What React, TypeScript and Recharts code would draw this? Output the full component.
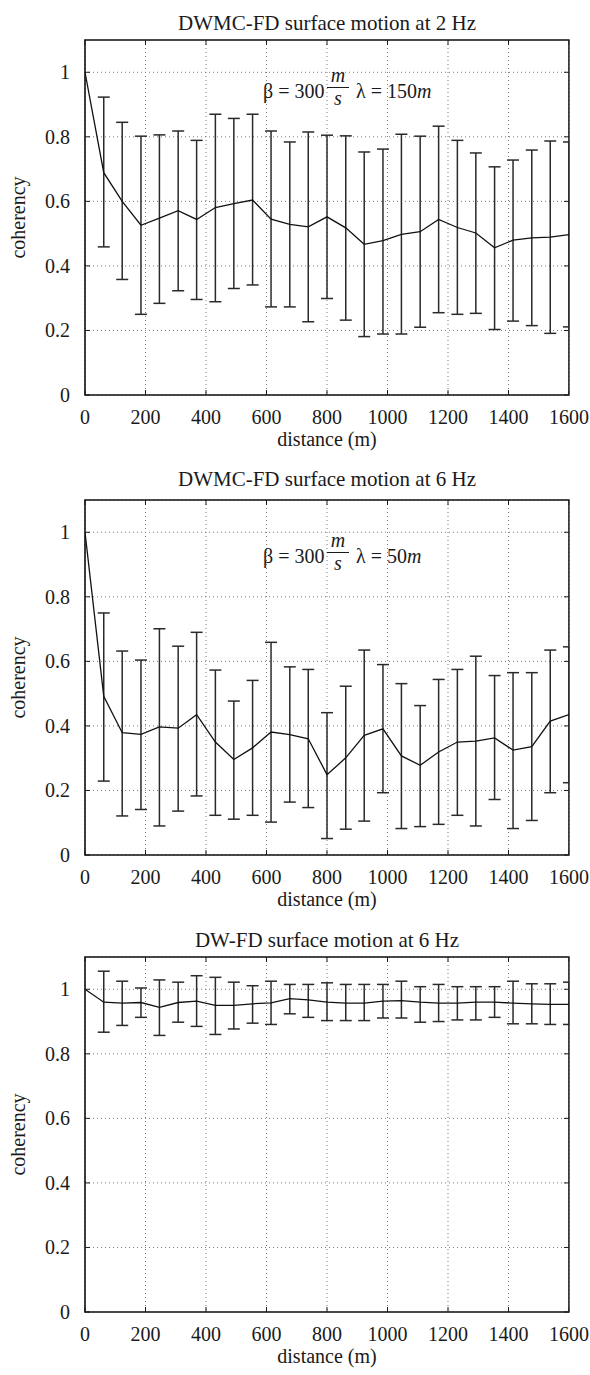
import React from 'react'
import {
  ComposedChart,
  Line,
  XAxis,
  YAxis,
  CartesianGrid,
  ErrorBar,
  ReferenceArea,
} from 'recharts'

// sensor separation (m)
const distance = [
  0, 62, 123, 185, 246, 308, 369, 431, 492, 554, 615, 677, 738, 800, 862, 923, 985, 1046,
  1108, 1169, 1231, 1292, 1354, 1415, 1477, 1538, 1600,
]

// DWMC-FD, 2 Hz
const coh2Hz = [
  1.0, 0.689, 0.6, 0.526, 0.548, 0.571, 0.544, 0.581, 0.593, 0.604, 0.545, 0.529, 0.521, 0.552,
  0.518, 0.467, 0.478, 0.498, 0.506, 0.544, 0.519, 0.502, 0.456, 0.48, 0.487, 0.489, 0.497,
]
const hi2Hz = [
  null, 0.923, 0.845, 0.802, 0.806, 0.818, 0.789, 0.87, 0.857, 0.87, 0.818, 0.784, 0.815, 0.805,
  0.803, 0.753, 0.762, 0.808, 0.802, 0.833, 0.789, 0.75, 0.707, 0.728, 0.759, 0.787, 0.784,
]
const lo2Hz = [
  null, 0.459, 0.358, 0.25, 0.284, 0.323, 0.296, 0.289, 0.33, 0.341, 0.273, 0.273, 0.227, 0.299,
  0.232, 0.181, 0.189, 0.189, 0.21, 0.255, 0.25, 0.253, 0.203, 0.229, 0.215, 0.191, 0.211,
]

// DWMC-FD, 6 Hz
const coh6Hz = [
  1.0, 0.492, 0.379, 0.374, 0.397, 0.393, 0.435, 0.35, 0.296, 0.332, 0.381, 0.373, 0.36, 0.249,
  0.301, 0.371, 0.391, 0.307, 0.278, 0.319, 0.35, 0.353, 0.363, 0.325, 0.336, 0.415, 0.435,
]
const hi6Hz = [
  null, 0.75, 0.632, 0.604, 0.701, 0.647, 0.69, 0.573, 0.477, 0.541, 0.659, 0.583, 0.575, 0.441,
  0.523, 0.635, 0.59, 0.531, 0.463, 0.544, 0.575, 0.616, 0.556, 0.565, 0.565, 0.635, 0.645,
]
const lo6Hz = [
  null, 0.229, 0.121, 0.141, 0.09, 0.136, 0.183, 0.123, 0.111, 0.123, 0.102, 0.164, 0.147, 0.051,
  0.08, 0.105, 0.193, 0.082, 0.088, 0.095, 0.123, 0.09, 0.172, 0.082, 0.107, 0.193, 0.224,
]

// DW-FD, 6 Hz
const cohDW = [
  1.0, 0.96, 0.957, 0.959, 0.944, 0.959, 0.963, 0.95, 0.95, 0.955, 0.958, 0.971, 0.967, 0.96,
  0.957, 0.957, 0.963, 0.965, 0.96, 0.957, 0.957, 0.96, 0.96, 0.957, 0.955, 0.953, 0.953,
]
const hiDW = [
  null, 1.056, 1.025, 1.004, 1.029, 1.022, 1.042, 1.037, 1.022, 1.011, 1.025, 1.015, 1.015, 1.02,
  1.015, 1.015, 1.015, 1.025, 1.008, 1.015, 1.008, 1.008, 1.008, 1.025, 1.017, 1.017, 1.022,
]
const loDW = [
  null, 0.867, 0.888, 0.913, 0.857, 0.898, 0.885, 0.86, 0.877, 0.895, 0.891, 0.924, 0.913, 0.903,
  0.903, 0.903, 0.911, 0.911, 0.898, 0.9, 0.905, 0.905, 0.913, 0.893, 0.893, 0.891, 0.891,
]

const xTicks = [0, 200, 400, 600, 800, 1000, 1200, 1400, 1600]
const yTicks = [0, 0.2, 0.4, 0.6, 0.8, 1]

const FONT = '"Liberation Serif", "Times New Roman", Times, serif'
const INK = '#1a1a1a'
const W = 590
const CHART_H = 455
const PLOT_LEFT = 85
const PLOT_RIGHT = 569
const PLOT_TOP = 40
const PLOT_H = 355

const txt = (size: number, italic = false): React.CSSProperties => ({
  fontFamily: FONT,
  fontSize: size,
  fontStyle: italic ? 'italic' : 'normal',
})

function buildRows(mean: number[], hi: (number | null)[], lo: (number | null)[]) {
  return distance.map((x, i) => {
    const h = hi[i]
    const l = lo[i]
    return {
      x,
      y: mean[i],
      err: h == null || l == null ? null : [mean[i] - l, h - mean[i]],
    }
  })
}

// tick label plus matlab-style inward tick marks on both sides
const XTick = (props: any) => {
  const { x, y, payload } = props
  return (
    <g>
      <line x1={x} x2={x} y1={y} y2={y - 5} stroke={INK} strokeWidth={1} />
      <line x1={x} x2={x} y1={y - PLOT_H} y2={y - PLOT_H + 5} stroke={INK} strokeWidth={1} />
      <text x={x} y={y + 29} textAnchor="middle" style={txt(20)} fill={INK}>
        {String(payload.value)}
      </text>
    </g>
  )
}

const YTick = (props: any) => {
  const { x, y, payload } = props
  return (
    <g>
      <line x1={x} x2={x + 5} y1={y} y2={y} stroke={INK} strokeWidth={1} />
      <line x1={PLOT_RIGHT - 5} x2={PLOT_RIGHT} y1={y} y2={y} stroke={INK} strokeWidth={1} />
      <text x={x - 15} y={y + 7} textAnchor="end" style={txt(20)} fill={INK}>
        {String(payload.value)}
      </text>
    </g>
  )
}

function Annotation({ y, lambda }: { y: number; lambda: string }) {
  return (
    <g fill={INK}>
      <text x={263} y={y} style={txt(20)}>β = 300</text>
      <text x={338} y={y - 15.5} textAnchor="middle" style={txt(20, true)}>m</text>
      <line x1={327} x2={349} y1={y - 10} y2={y - 10} stroke={INK} strokeWidth={1} />
      <text x={338} y={y + 7.5} textAnchor="middle" style={txt(20, true)}>s</text>
      <text x={356} y={y} style={txt(20)}>
        {`λ = ${lambda}`}
        <tspan style={txt(20, true)}>m</tspan>
      </text>
    </g>
  )
}

interface PanelProps {
  top: number
  title: string
  titleY: number
  rows: ReturnType<typeof buildRows>
  lambda?: string
  noteY?: number
}

function Panel({ top, title, titleY, rows, lambda, noteY }: PanelProps) {
  const midX = (PLOT_LEFT + PLOT_RIGHT) / 2
  const bottom = PLOT_TOP + PLOT_H
  return (
    <div style={{ position: 'absolute', left: 0, top, width: W, height: CHART_H }}>
      <ComposedChart
        width={W}
        height={CHART_H}
        data={rows}
        margin={{ top: PLOT_TOP, right: W - PLOT_RIGHT, bottom: 0, left: 0 }}
      >
        <CartesianGrid stroke="#7a7a7a" strokeDasharray="1 3" strokeWidth={1} />
        <XAxis
          dataKey="x"
          type="number"
          domain={[0, 1600]}
          ticks={xTicks}
          interval={0}
          allowDataOverflow
          height={CHART_H - bottom}
          axisLine={false}
          tickLine={false}
          tickSize={0}
          tickMargin={0}
          tick={XTick}
        />
        <YAxis
          type="number"
          domain={[0, 1.1]}
          ticks={yTicks}
          interval={0}
          allowDataOverflow
          width={PLOT_LEFT}
          axisLine={false}
          tickLine={false}
          tickSize={0}
          tickMargin={0}
          tick={YTick}
        />
        <Line
          type="linear"
          dataKey="y"
          stroke="#111"
          strokeWidth={1.3}
          dot={false}
          activeDot={false}
          isAnimationActive={false}
        >
          <ErrorBar
            dataKey="err"
            direction="y"
            width={6}
            stroke="#2a2a2a"
            strokeWidth={1.5}
            isAnimationActive={false}
          />
        </Line>
        <ReferenceArea
          x1={0}
          x2={1600}
          y1={0}
          y2={1.1}
          fill="none"
          fillOpacity={0}
          stroke="#111"
          strokeWidth={1.6}
          ifOverflow="visible"
        />
      </ComposedChart>
      <svg
        width={W}
        height={CHART_H}
        style={{ position: 'absolute', left: 0, top: 0, pointerEvents: 'none' }}
      >
        {/* hide the part of the last error bar cap that falls outside the frame */}
        <rect
          x={PLOT_RIGHT + 0.8}
          y={PLOT_TOP - 2}
          width={W - PLOT_RIGHT}
          height={PLOT_H + 4}
          fill="#fff"
        />
        <text x={midX} y={titleY} textAnchor="middle" style={txt(21)} fill={INK}>
          {title}
        </text>
        <text x={midX} y={bottom + 51} textAnchor="middle" style={txt(20)} fill={INK}>
          distance (m)
        </text>
        <text
          transform={`translate(25, ${PLOT_TOP + PLOT_H / 2}) rotate(-90)`}
          textAnchor="middle"
          style={txt(20)}
          fill={INK}
        >
          coherency
        </text>
        {lambda && noteY != null && <Annotation y={noteY} lambda={lambda} />}
      </svg>
    </div>
  )
}

export default function App() {
  return (
    <div
      style={{
        position: 'absolute',
        left: 0,
        top: 0,
        width: W,
        height: 1375,
        background: '#fff',
        fontFamily: FONT,
      }}
    >
      <Panel
        top={0}
        title="DWMC-FD surface motion at 2 Hz"
        titleY={29.5}
        rows={buildRows(coh2Hz, hi2Hz, lo2Hz)}
        lambda="150"
        noteY={97.5}
      />
      <Panel
        top={459.5}
        title="DWMC-FD surface motion at 6 Hz"
        titleY={25.5}
        rows={buildRows(coh6Hz, hi6Hz, lo6Hz)}
        lambda="50"
        noteY={102.5}
      />
      <Panel
        top={917}
        title="DW-FD surface motion at 6 Hz"
        titleY={30}
        rows={buildRows(cohDW, hiDW, loDW)}
      />
    </div>
  )
}
